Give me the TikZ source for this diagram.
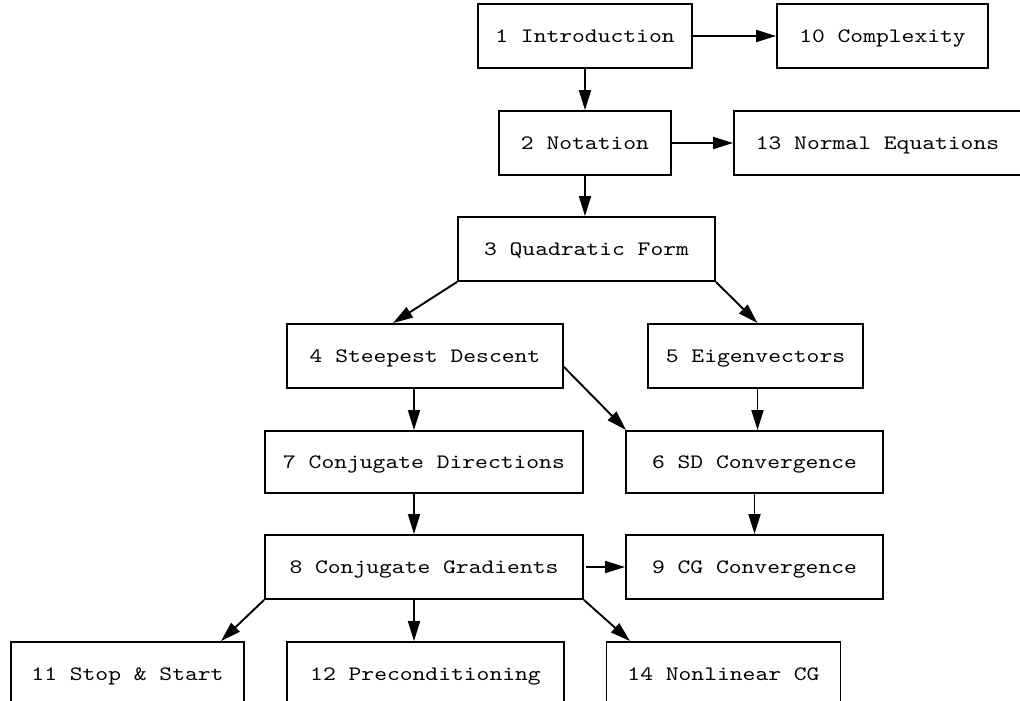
\documentclass[tikz,border=0pt]{standalone}
\usepackage{fontspec}
\newfontfamily\courfont{lmmono10-regular}[Extension=.otf,FakeStretch=1.19]
\usetikzlibrary{arrows.meta,calc}
\begin{document}
\begin{tikzpicture}[x=1pt,y=-1pt,
  box/.style={draw,line width=1.9pt,minimum height=64pt,inner sep=0pt,text height=12.5pt,text depth=0pt,font=\courfont\fontsize{20.5}{24}\selectfont},
  arr/.style={line width=1.9pt,-{Triangle[length=20pt,width=12pt]}}]
\useasboundingbox (0,0) rectangle (1020,701);
\clip (0,0) rectangle (1020,701);
\node[box,minimum width=214pt] (n1) at (585,36) {1 Introduction};
\node[box,minimum width=211pt] (n10) at (882.5,36) {10 Complexity};
\node[box,minimum width=172pt] (n2) at (585,143) {2 Notation};
\node[box,minimum width=287pt] (n13) at (877.5,143) {13 Normal Equations};
\node[box,minimum width=257pt] (n3) at (586.5,249) {3 Quadratic Form};
\node[box,minimum width=276pt] (n4) at (425,356) {4 Steepest Descent};
\node[box,minimum width=215pt] (n5) at (755.5,356) {5 Eigenvectors};
\node[box,minimum width=318pt,minimum height=62pt] (n7) at (424,462) {7 Conjugate Directions};
\node[box,minimum width=257pt,minimum height=62pt] (n6) at (754.5,462) {6 SD Convergence};
\node[box,minimum width=318pt] (n8) at (424,567) {8 Conjugate Gradients};
\node[box,minimum width=257pt] (n9) at (754.5,567) {9 CG Convergence};
\node[box,minimum width=233pt] (n11) at (127.5,674) {11 Stop \& Start};
\node[box,minimum width=277pt] (n12) at (425.5,674) {12 Preconditioning};
\node[box,minimum width=234pt] (n14) at (723.5,674) {14 Nonlinear CG};
\draw[arr] (n1.south) -- (n1.south |- n2.north);
\draw[arr] (n1.east) -- (n10.west);
\draw[arr] (n2.east) -- (n13.west);
\draw[arr] (n2.south) -- (n2.south |- n3.north);
\draw[arr] (n3.south west) -- ([xshift=-32pt]n4.north);
\draw[arr] (n3.south east) -- ([xshift=2pt]n5.north);
\draw[arr] ([xshift=-11pt]n4.south) -- ([xshift=-11pt]n4.south |- n7.north);
\draw[arr] ([yshift=-11pt]n4.east) -- ([xshift=1pt]n6.north west);
\draw[arr] ([xshift=2pt]n5.south) -- ([xshift=2pt]n5.south |- n6.north);
\draw[arr] ([xshift=-10pt]n7.south) -- ([xshift=-10pt]n7.south |- n8.north);
\draw[arr] (n6.south) -- (n6.south |- n9.north);
\draw[arr] ([xshift=2pt]n8.east) -- (n9.west);
\draw[arr] (n8.south west) -- ([xshift=93.5pt]n11.north);
\draw[arr] ([xshift=-10pt]n8.south) -- ([xshift=-10pt]n8.south |- n12.north);
\draw[arr] (n8.south east) -- ([xshift=-93.5pt]n14.north);
\end{tikzpicture}
\end{document}
